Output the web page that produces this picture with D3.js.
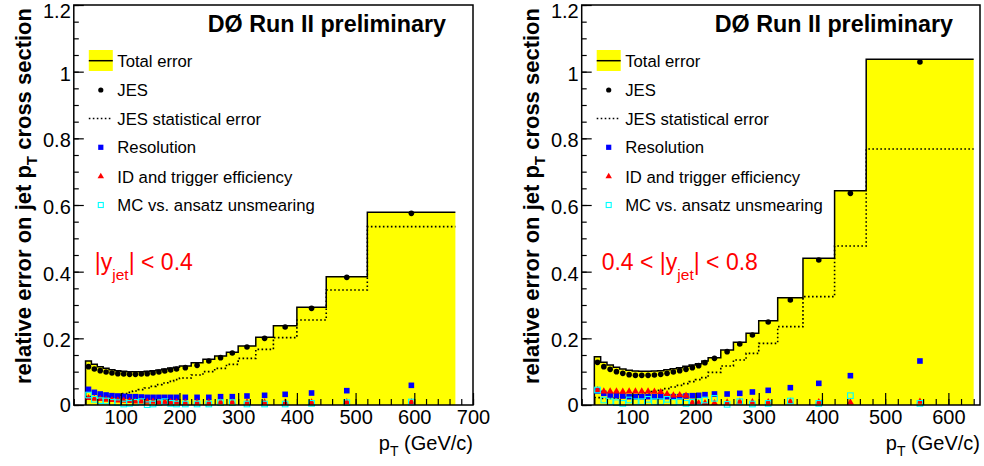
<!DOCTYPE html>
<html>
<head>
<meta charset="utf-8">
<script src="https://cdn.jsdelivr.net/npm/d3@7"></script>
<style>
  body { margin: 0; background: #fff; }
  svg { display: block; font-family: "Liberation Sans", Arial, sans-serif; }
</style>
</head>
<body>
<svg id="chart" width="984" height="466"></svg>
<script>
// bin edges in pT (GeV/c)
var leftEdges  = [40,50,60,70,80,90,100,110,120,130,140,150,160,170,180,190,200,220,240,260,280,300,330,360,400,450,520,670];
var rightEdges = [40,50,60,70,80,90,100,110,120,130,140,150,160,170,180,190,200,210,220,240,260,280,300,330,370,420,470,640];

// |y| < 0.4
var leftTotal = [0.132,0.122,0.115,0.110,0.106,0.103,0.101,0.100,0.100,0.100,0.101,0.103,0.105,0.108,0.111,0.113,0.117,0.127,0.137,0.147,0.158,0.177,0.203,0.238,0.293,0.385,0.578];
var leftJES   = [0.115,0.108,0.103,0.099,0.096,0.094,0.093,0.092,0.092,0.093,0.094,0.096,0.099,0.102,0.105,0.108,0.112,0.119,0.132,0.142,0.156,0.174,0.200,0.234,0.290,0.383,0.575];
var leftStat  = [0.025,0.024,0.024,0.025,0.027,0.030,0.034,0.038,0.042,0.046,0.051,0.056,0.061,0.066,0.071,0.076,0.081,0.090,0.100,0.110,0.122,0.140,0.167,0.202,0.255,0.345,0.535];
var leftRes   = [0.047,0.038,0.033,0.030,0.028,0.027,0.026,0.025,0.025,0.024,0.023,0.023,0.023,0.023,0.023,0.023,0.023,0.023,0.023,0.025,0.025,0.027,0.029,0.032,0.036,0.043,0.059];
var leftID    = [0.018,0.016,0.015,0.013,0.012,0.011,0.010,0.009,0.008,0.008,0.007,0.007,0.006,0.006,0.006,0.006,0.005,0.005,0.005,0.006,0.006,0.005,0.005,0.005,0.005,0.006,0.006];
var leftMC    = [0.030,0.017,0.013,0.012,0.008,0.007,0.003,0.005,0.008,0.010,0.001,0.003,0.007,0.010,0.005,0.003,0.003,0.003,0.003,0.007,0.007,0.003,0.003,0.003,0.005,0.007,0.009];

// 0.4 < |y| < 0.8
var rightTotal = [0.145,0.128,0.120,0.113,0.108,0.104,0.102,0.101,0.101,0.102,0.103,0.106,0.109,0.112,0.116,0.120,0.124,0.132,0.142,0.165,0.188,0.215,0.253,0.322,0.440,0.643,1.037];
var rightJES   = [0.128,0.115,0.107,0.100,0.095,0.091,0.089,0.089,0.089,0.090,0.092,0.095,0.099,0.103,0.107,0.112,0.118,0.127,0.140,0.160,0.183,0.210,0.249,0.315,0.435,0.635,1.029];
var rightStat  = [0.022,0.020,0.020,0.021,0.023,0.026,0.029,0.032,0.036,0.040,0.044,0.049,0.054,0.059,0.064,0.070,0.076,0.082,0.098,0.117,0.135,0.155,0.185,0.235,0.325,0.477,0.768];
var rightRes   = [0.042,0.035,0.030,0.028,0.027,0.025,0.025,0.025,0.025,0.025,0.025,0.025,0.025,0.025,0.027,0.028,0.029,0.031,0.033,0.033,0.035,0.039,0.044,0.052,0.065,0.088,0.132];
var rightID    = [0.042,0.038,0.038,0.038,0.037,0.038,0.038,0.038,0.038,0.037,0.036,0.030,0.026,0.027,0.025,0.004,0.003,0.003,0.003,0.005,0.007,0.006,0.006,0.007,0.006,0.005,0.007];
var rightMC    = [0.045,0.015,0.010,0.007,0.005,0.015,0.010,0.010,0.017,0.010,0.010,0.017,0.008,0.010,0.005,0.008,0.010,0.015,0.020,0.002,0.010,0.003,0.005,0.012,0.005,0.028,0.005];

var yTicks = [0,0.2,0.4,0.6,0.8,1,1.2];
var yTickLabels = ["0","0.2","0.4","0.6","0.8","1","1.2"];
var leftXTicks = [100,200,300,400,500,600,700];
var rightXTicks = [100,200,300,400,500,600];
var legendLabels = ["Total error","JES","JES statistical error","Resolution","ID and trigger efficiency","MC vs. ansatz unsmearing"];

var svg = d3.select("#chart");
var frame = {top: 5, bottom: 405};

var makeBins = function(edges, values)
{
    return values.map(function(v, i) { return {lo: edges[i], hi: edges[i+1], v: v}; });
}

var stepPath = function(bins, xScale, yScale, fromBase)
{
    var p = d3.path();
    if (fromBase) { p.moveTo(xScale(bins[0].lo), yScale(0)); p.lineTo(xScale(bins[0].lo), yScale(bins[0].v)); }
    else p.moveTo(xScale(bins[0].lo), yScale(bins[0].v));
    bins.forEach(function(b, i) {
        if (i > 0) p.lineTo(xScale(b.lo), yScale(b.v));
        p.lineTo(xScale(b.hi), yScale(b.v));
    });
    return p.toString();
}

var drawPanel = function(opt)
{
    var xScale = d3.scaleLinear().domain(opt.xDomain).range([opt.x0, opt.x1]);
    var yScale = d3.scaleLinear().domain([0, 1.2]).range([frame.bottom, frame.top]);
    var g = svg.append("g");

    var total = makeBins(opt.edges, opt.total);

    // yellow total error histogram
    var area = d3.area()
        .curve(d3.curveStepAfter)
        .x(function(d) { return xScale(d.x); })
        .y0(yScale(0))
        .y1(function(d) { return yScale(d.v); });
    var areaPts = total.map(function(b) { return {x: b.lo, v: b.v}; });
    areaPts.push({x: total[total.length-1].hi, v: total[total.length-1].v});
    g.append("path").attr("d", area(areaPts)).attr("fill", "#ffff00");
    g.append("path").attr("d", stepPath(total, xScale, yScale, true))
        .attr("fill", "none").attr("stroke", "#000").attr("stroke-width", 1.5);

    // JES statistical error, dotted
    g.append("path").attr("d", stepPath(makeBins(opt.edges, opt.stat), xScale, yScale, false))
        .attr("fill", "none").attr("stroke", "#000").attr("stroke-width", 1.6)
        .attr("stroke-dasharray", "1.6,2.4");

    var centres = opt.edges.slice(0, -1).map(function(e, i) { return (e + opt.edges[i+1]) / 2; });
    var pts = function(vals) { return vals.map(function(v, i) { return {x: centres[i], v: v}; }); };

    g.append("g").selectAll("circle").data(pts(opt.jes)).enter().append("circle")
        .attr("cx", function(d) { return xScale(d.x); })
        .attr("cy", function(d) { return yScale(d.v); })
        .attr("r", 2.8).attr("fill", "#000");

    g.append("g").selectAll("rect").data(pts(opt.res)).enter().append("rect")
        .attr("x", function(d) { return xScale(d.x) - 2.8; })
        .attr("y", function(d) { return yScale(d.v) - 2.8; })
        .attr("width", 5.6).attr("height", 5.6).attr("fill", "#0000ff");

    var tri = d3.symbol().type(d3.symbolTriangle).size(22);
    g.append("g").selectAll("path").data(pts(opt.id)).enter().append("path")
        .attr("d", tri)
        .attr("transform", function(d) { return "translate(" + xScale(d.x) + "," + (yScale(d.v) - 1) + ")"; })
        .attr("fill", "#ff0000");

    g.append("g").selectAll("rect").data(pts(opt.mc)).enter().append("rect")
        .attr("x", function(d) { return xScale(d.x) - 2.8; })
        .attr("y", function(d) { return yScale(d.v) - 2.8; })
        .attr("width", 5.6).attr("height", 5.6)
        .attr("fill", "none").attr("stroke", "#00ffff").attr("stroke-width", 1.1);

    drawAxis(g, opt, xScale, yScale);
    drawLegend(g, opt.x0);
    drawLabels(g, opt, xScale);
}

var drawAxis = function(g, opt, xScale, yScale)
{
    var minorY = d3.range(0, 1.2001, 0.05);
    var minorX = d3.range(20, opt.xDomain[1] + 0.1, 20);

    var yMinor = d3.axisLeft(yScale).tickValues(minorY).tickSize(-5).tickFormat("").tickSizeOuter(0);
    var yMajor = d3.axisLeft(yScale).tickValues(yTicks).tickSize(-10).tickSizeOuter(0).tickPadding(3)
        .tickFormat(function(d, i) { return yTickLabels[i]; });
    var xMinor = d3.axisBottom(xScale).tickValues(minorX).tickSize(-6).tickFormat("").tickSizeOuter(0);
    var xMajor = d3.axisBottom(xScale).tickValues(opt.xTicks).tickSize(-12).tickSizeOuter(0).tickPadding(5)
        .tickFormat(function(d) { return String(d); });

    [yMinor, yMajor].forEach(function(ax) {
        g.append("g").attr("transform", "translate(" + opt.x0 + ",0)").call(ax)
            .call(function(s) { s.select(".domain").remove(); });
    });
    [xMinor, xMajor].forEach(function(ax) {
        g.append("g").attr("transform", "translate(0," + frame.bottom + ")").call(ax)
            .call(function(s) { s.select(".domain").remove(); });
    });
    g.selectAll(".tick line").attr("stroke", "#000").attr("stroke-width", 1.2);
    g.selectAll(".tick text").attr("fill", "#000").attr("font-size", 20)
        .attr("font-family", "'Liberation Sans', Arial, sans-serif");
    // top label sits inside the picture, as in the original
    g.selectAll(".tick text").filter(function(d) { return d === 1.2; }).attr("dy", "0.62em");
    g.selectAll(".tick text").filter(function(d) { return d > 0 && d < 1.2; }).attr("dy", "0.42em");

    g.append("rect")
        .attr("x", opt.x0).attr("y", frame.top)
        .attr("width", opt.x1 - opt.x0).attr("height", frame.bottom - frame.top)
        .attr("fill", "none").attr("stroke", "#000").attr("stroke-width", 1.5);
}

var drawLegend = function(g, x0)
{
    var lx = x0 + 15, mx = x0 + 27, tx = x0 + 43.5;
    var rowY = [60.7, 90, 118.5, 147.3, 176.5, 205];
    var lg = g.append("g");

    lg.append("rect").attr("x", lx).attr("y", 50).attr("width", 24).attr("height", 21).attr("fill", "#ffff00");
    lg.append("line").attr("x1", lx).attr("x2", lx + 24).attr("y1", rowY[0]).attr("y2", rowY[0])
        .attr("stroke", "#000").attr("stroke-width", 1.5);
    lg.append("circle").attr("cx", mx).attr("cy", rowY[1]).attr("r", 2.6).attr("fill", "#000");
    lg.append("line").attr("x1", lx).attr("x2", lx + 24).attr("y1", rowY[2]).attr("y2", rowY[2])
        .attr("stroke", "#000").attr("stroke-width", 1.6).attr("stroke-dasharray", "1.6,2.4");
    lg.append("rect").attr("x", mx - 2.6).attr("y", rowY[3] - 2.6).attr("width", 5.2).attr("height", 5.2).attr("fill", "#0000ff");
    lg.append("path").attr("d", d3.symbol().type(d3.symbolTriangle).size(18))
        .attr("transform", "translate(" + mx + "," + rowY[4] + ")").attr("fill", "#ff0000");
    lg.append("rect").attr("x", mx - 2.5).attr("y", rowY[5] - 2.5).attr("width", 5).attr("height", 5)
        .attr("fill", "none").attr("stroke", "#00ffff").attr("stroke-width", 1.1);

    lg.selectAll("text").data(legendLabels).enter().append("text")
        .attr("x", tx).attr("y", function(d, i) { return rowY[i] + 6; })
        .attr("font-size", 16.7).attr("fill", "#000")
        .text(function(d) { return d; });
}

var drawLabels = function(g, opt, xScale)
{
    g.append("text")
        .text("DØ Run II preliminary")
        .attr("x", opt.x1 - 27).attr("y", 31.5)
        .attr("text-anchor", "end").attr("font-size", 23.3).attr("font-weight", "bold");

    // y axis title
    var yt = g.append("text")
        .attr("transform", "translate(" + (opt.x0 - 42.5) + "," + ((frame.top + 387) / 2) + ") rotate(-90)")
        .attr("text-anchor", "middle").attr("font-size", 22).attr("font-weight", "bold");
    yt.append("tspan").text("relative error on jet p");
    yt.append("tspan").text("T").attr("font-size", 15).attr("dy", 6);
    yt.append("tspan").text(" cross section").attr("dy", -6);

    // x axis title
    var xt = g.append("text")
        .attr("x", opt.x1).attr("y", 450)
        .attr("text-anchor", "end").attr("font-size", 20);
    xt.append("tspan").text("p");
    xt.append("tspan").text("T").attr("font-size", 14).attr("dy", 6);
    xt.append("tspan").text(" (GeV/c)").attr("dy", -6);

    // rapidity region
    var rt = g.append("text")
        .attr("x", opt.x0 + opt.regionDx).attr("y", 270)
        .attr("font-size", 23).attr("fill", "#ff0000");
    rt.append("tspan").text(opt.regionPre + "|y");
    rt.append("tspan").text("jet").attr("font-size", 15.5).attr("dy", 10);
    rt.append("tspan").text("| < " + opt.regionPost).attr("dy", -10);
}

drawPanel({x0: 73.8, x1: 473, xDomain: [20, 700], xTicks: leftXTicks, edges: leftEdges,
    total: leftTotal, jes: leftJES, stat: leftStat, res: leftRes, id: leftID, mc: leftMC,
    regionPre: "", regionPost: "0.4", regionDx: 21});
drawPanel({x0: 581.7, x1: 980, xDomain: [20, 650], xTicks: rightXTicks, edges: rightEdges,
    total: rightTotal, jes: rightJES, stat: rightStat, res: rightRes, id: rightID, mc: rightMC,
    regionPre: "0.4 < ", regionPost: "0.8", regionDx: 20});
</script>
</body>
</html>
